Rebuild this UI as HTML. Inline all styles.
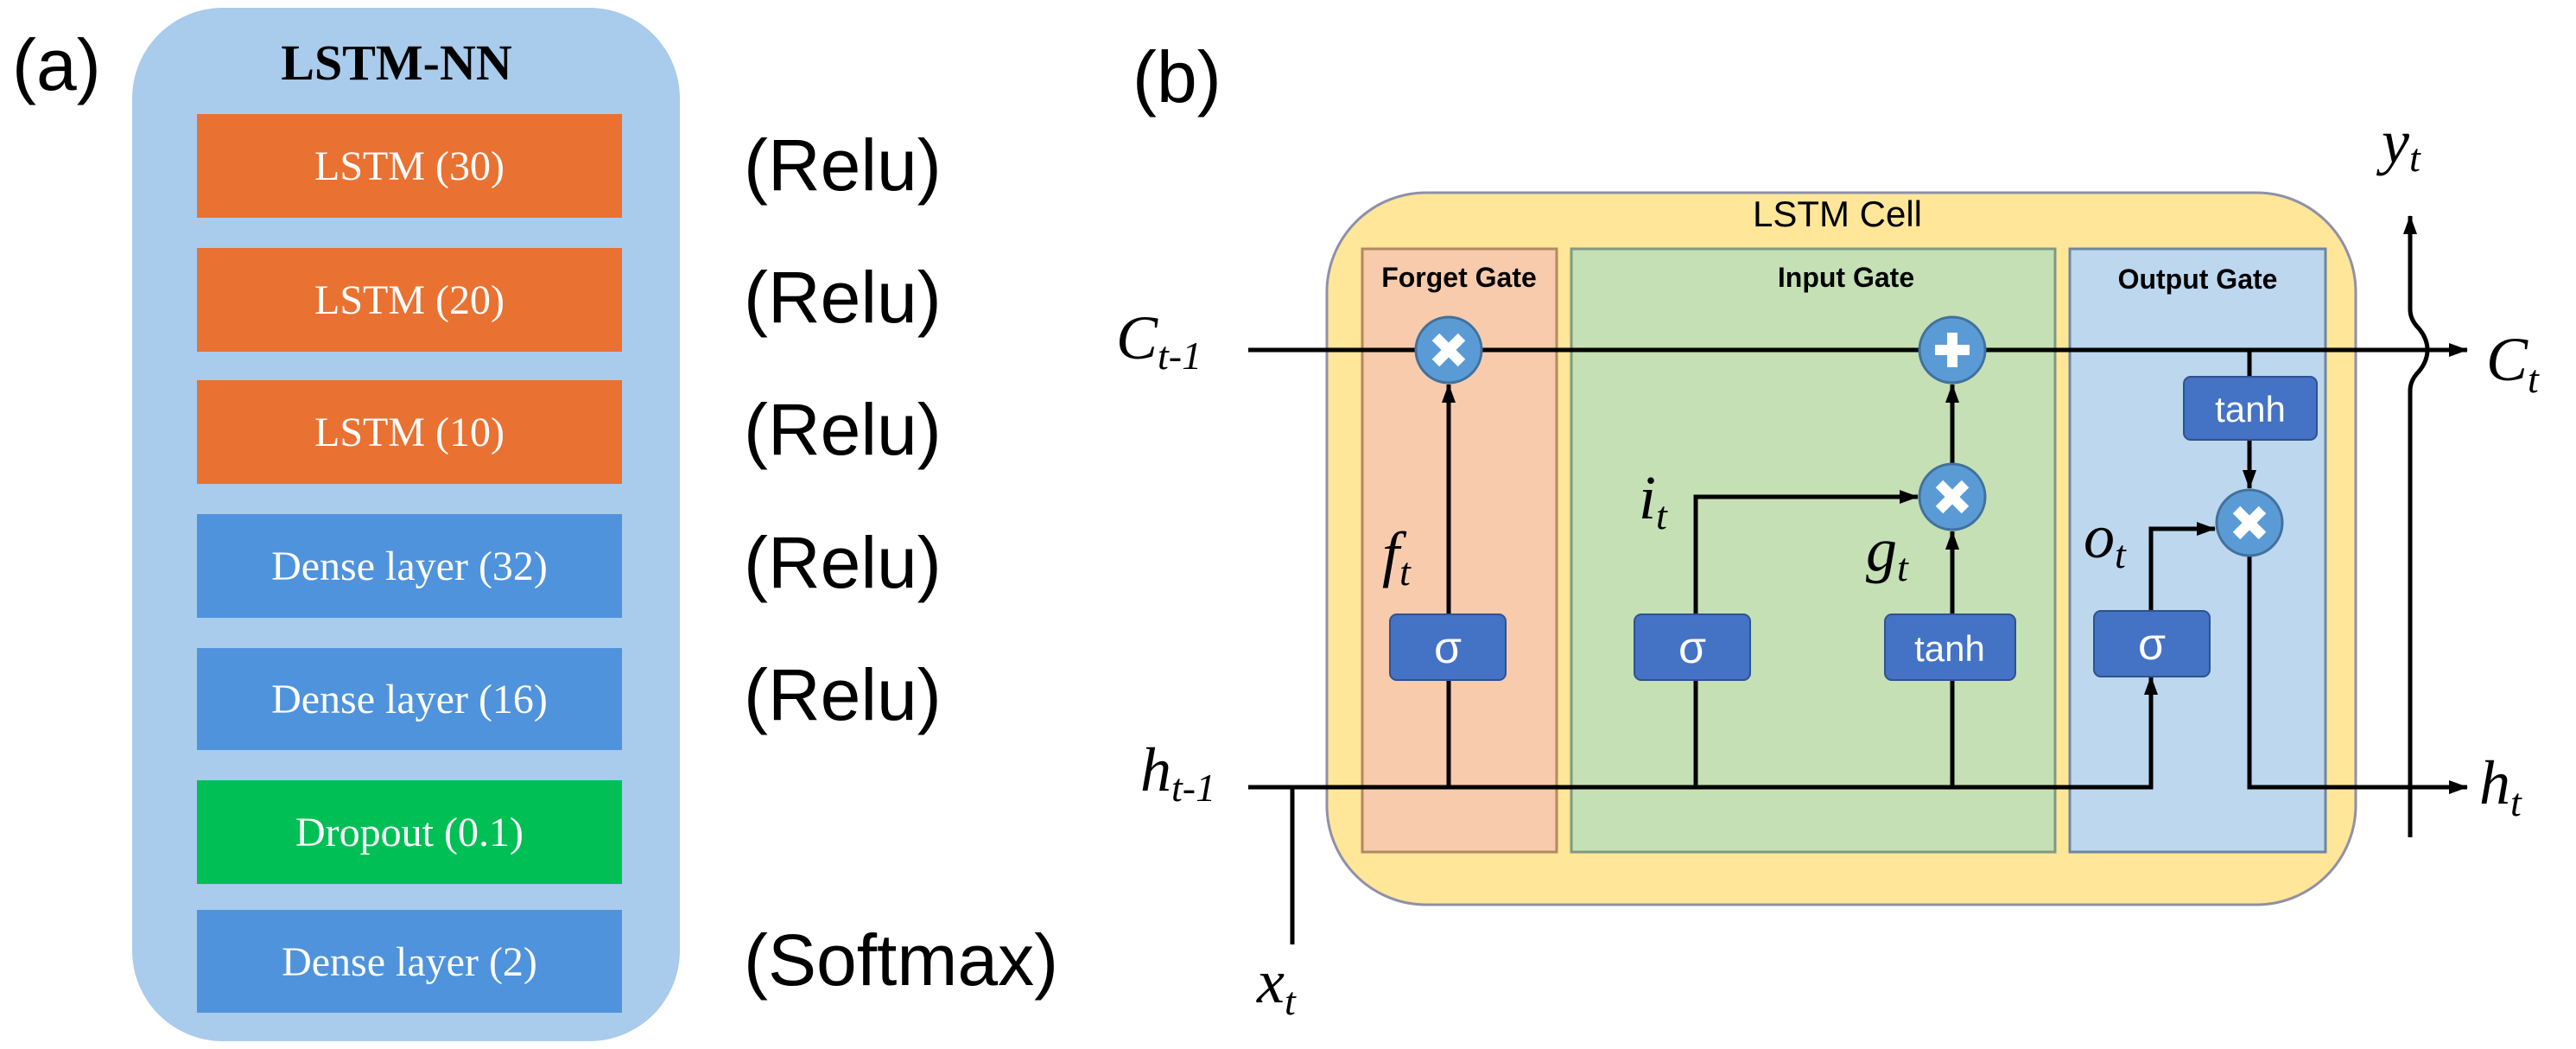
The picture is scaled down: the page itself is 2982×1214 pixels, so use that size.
<!DOCTYPE html>
<html><head><meta charset="utf-8"><style>
html,body{margin:0;padding:0;background:#fff;}
svg{display:block;}
.s{font-family:"Liberation Sans",sans-serif;}
.r{font-family:"Liberation Serif",serif;}
.m{font-family:"Liberation Serif",serif;font-style:italic;}
</style></head><body>
<svg width="2982" height="1214" viewBox="0 0 2982 1214" xmlns="http://www.w3.org/2000/svg">
<defs>
<marker id="ar" markerWidth="10" markerHeight="10" refX="9" refY="5" orient="auto" markerUnits="userSpaceOnUse">
<path d="M0,0 L10,5 L0,10 z" fill="#000"/></marker>
<marker id="ab" markerWidth="22" markerHeight="16" refX="21" refY="8" orient="auto" markerUnits="userSpaceOnUse">
<path d="M0,0 L22,8 L0,16 z" fill="#000"/></marker>
</defs>
<!-- (a) -->
<text x="14" y="104" class="s" font-size="84">(a)</text>
<rect x="153" y="9" width="634" height="1196" rx="105" fill="#a9cbec"/>
<text x="459" y="92" class="r" font-size="58" font-weight="bold" text-anchor="middle">LSTM-NN</text>
<g class="r" font-size="48" fill="#fff" text-anchor="middle">
<rect x="228" y="132" width="492" height="120" fill="#e97132"/><text x="474" y="208">LSTM (30)</text>
<rect x="228" y="287" width="492" height="120" fill="#e97132"/><text x="474" y="363">LSTM (20)</text>
<rect x="228" y="440" width="492" height="120" fill="#e97132"/><text x="474" y="516">LSTM (10)</text>
<rect x="228" y="595" width="492" height="120" fill="#4f93dc"/><text x="474" y="671">Dense layer (32)</text>
<rect x="228" y="750" width="492" height="118" fill="#4f93dc"/><text x="474" y="825">Dense layer (16)</text>
<rect x="228" y="903" width="492" height="120" fill="#00bf55"/><text x="474" y="979">Dropout (0.1)</text>
<rect x="228" y="1053" width="492" height="119" fill="#4f93dc"/><text x="474" y="1129">Dense layer (2)</text>
</g>
<g class="s" font-size="84">
<text x="861" y="220">(Relu)</text>
<text x="861" y="373">(Relu)</text>
<text x="861" y="526">(Relu)</text>
<text x="861" y="680">(Relu)</text>
<text x="861" y="833">(Relu)</text>
<text x="861" y="1140">(Softmax)</text>
</g>
<!-- (b) -->
<text x="1311" y="118" class="s" font-size="84">(b)</text>
<rect x="1536" y="223" width="1191" height="824" rx="115" fill="#ffe699" stroke="#8f90a8" stroke-width="3"/>
<text x="2127" y="262" class="s" font-size="42" text-anchor="middle">LSTM Cell</text>
<rect x="1577" y="288" width="225" height="698" fill="#f8cbad" stroke="#b08a60" stroke-width="3"/>
<rect x="1819" y="288" width="560" height="698" fill="#c5e0b4" stroke="#7f9a80" stroke-width="3"/>
<rect x="2396" y="288" width="296" height="698" fill="#bdd7ee" stroke="#6f86a0" stroke-width="3"/>
<g class="s" font-size="32" font-weight="bold" text-anchor="middle">
<text x="1689" y="332">Forget Gate</text>
<text x="2137" y="332">Input Gate</text>
<text x="2544" y="334">Output Gate</text>
</g>
<g stroke="#000" stroke-width="5" fill="none">
<!-- C line -->
<line x1="1445" y1="405" x2="2856" y2="405" marker-end="url(#ab)"/>
<!-- h line -->
<polyline points="1445,911 2490,911 2490,783" marker-end="url(#ab)"/>
<polyline points="2604,643 2604,911 2856,911" marker-end="url(#ab)"/>
<line x1="1496" y1="911" x2="1496" y2="1093"/>
<!-- forget -->
<line x1="1677" y1="911" x2="1677" y2="445" marker-end="url(#ab)"/>
<!-- input -->
<polyline points="1963,911 1963,575 2220,575" marker-end="url(#ab)"/>
<line x1="2260" y1="911" x2="2260" y2="615" marker-end="url(#ab)"/>
<line x1="2260" y1="537" x2="2260" y2="445" marker-end="url(#ab)"/>
<!-- output -->
<polyline points="2490,707 2490,612 2564,612" marker-end="url(#ab)"/>
<line x1="2604" y1="405" x2="2604" y2="436"/>
<line x1="2604" y1="509" x2="2604" y2="565" marker-end="url(#ab)"/>
<!-- y_t with brace -->
<path d="M2790,969 L2790,452 Q2790,440 2800,430 Q2810,418 2810,405 Q2810,392 2800,380 Q2790,370 2790,358 L2790,250" marker-end="url(#ab)"/>
</g>
<!-- op boxes -->
<g fill="#4472c4" stroke="#2f528f" stroke-width="2">
<rect x="1609" y="711" width="134" height="76" rx="8"/>
<rect x="1892" y="711" width="134" height="76" rx="8"/>
<rect x="2182" y="711" width="151" height="76" rx="8"/>
<rect x="2424" y="707" width="134" height="76" rx="8"/>
<rect x="2528" y="436" width="154" height="73" rx="8"/>
</g>
<g class="s" fill="#fff" text-anchor="middle">
<text x="1676" y="767" font-size="52">σ</text>
<text x="1959" y="767" font-size="52">σ</text>
<text x="2257" y="765" font-size="42">tanh</text>
<text x="2491" y="763" font-size="52">σ</text>
<text x="2605" y="488" font-size="42">tanh</text>
</g>
<!-- circles -->
<g fill="#5b9bd5" stroke="#41719c" stroke-width="3">
<circle cx="1677" cy="405" r="38"/>
<circle cx="2260" cy="405" r="38"/>
<circle cx="2260" cy="575" r="38"/>
<circle cx="2604" cy="605" r="38"/>
</g>
<g stroke="#fff" stroke-width="12" stroke-linecap="butt">
<path d="M1662,390 L1692,420 M1692,390 L1662,420"/>
<path d="M2260,385 L2260,425 M2240,405 L2280,405"/>
<path d="M2245,560 L2275,590 M2275,560 L2245,590"/>
<path d="M2589,590 L2619,620 M2619,590 L2589,620"/>
</g>
<!-- math labels -->
<g class="m" fill="#000">
<text x="1292" y="415" font-size="72">C<tspan font-size="46" dy="12">t-1</tspan></text>
<text x="1320" y="915" font-size="72">h<tspan font-size="46" dy="12">t-1</tspan></text>
<text x="1455" y="1160" font-size="72">x<tspan font-size="46" dy="14">t</tspan></text>
<text x="2878" y="440" font-size="72">C<tspan font-size="46" dy="14">t</tspan></text>
<text x="2870" y="930" font-size="72">h<tspan font-size="46" dy="14">t</tspan></text>
<text x="2757" y="188" font-size="72">y<tspan font-size="46" dy="10">t</tspan></text>
<text x="1600" y="665" font-size="72">f<tspan font-size="46" dy="12">t</tspan></text>
<text x="1897" y="600" font-size="72">i<tspan font-size="46" dy="12">t</tspan></text>
<text x="2160" y="660" font-size="72">g<tspan font-size="46" dy="12">t</tspan></text>
<text x="2412" y="645" font-size="72">o<tspan font-size="46" dy="12">t</tspan></text>
</g>
</svg>
</body></html>
